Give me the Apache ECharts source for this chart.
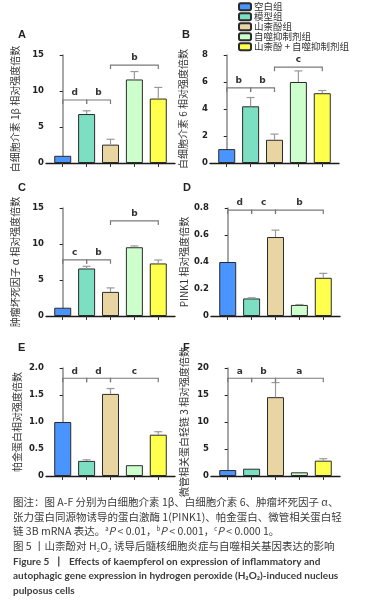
<!DOCTYPE html>
<html>
<head>
<meta charset="utf-8">
<script src="https://cdn.jsdelivr.net/npm/echarts@6/dist/echarts.min.js"></script>
<style>
  html, body { margin: 0; padding: 0; background: #fff; }
  #chart { width: 386px; height: 610px; }
</style>
</head>
<body>
<div id="chart"></div>
<script>
// 分组
const groups = ['空白组', '模型组', '山柰酚组', '自噬抑制剂组', '山柰酚 + 自噬抑制剂组'];
const groupColors = ['#4a94ff', '#7cdfc2', '#e8d5a2', '#ccffcc', '#ffff4d'];

// A 白细胞介素 1β
const il1b = [1.0, 6.8, 2.55, 11.6, 8.95];
const il1bErr = [1.0, 7.25, 3.3, 12.7, 10.5];
const il1bSig = [[0, 1, 8.75, 'd'], [1, 2, 8.75, 'b'], [2, 4, 13.6, 'b']];
// B 白细胞介素 6
const il6 = [1.03, 4.2, 1.72, 6.0, 5.17];
const il6Err = [1.03, 4.85, 2.14, 6.82, 5.37];
const il6Sig = [[0, 1, 5.56, 'b'], [1, 2, 5.56, 'b'], [2, 4, 7.1, 'c']];
// C 肿瘤坏死因子 α
const tnf = [1.15, 6.6, 3.35, 9.55, 7.3];
const tnfErr = [1.15, 6.9, 3.9, 9.73, 7.78];
const tnfSig = [[0, 1, 7.8, 'c'], [1, 2, 7.8, 'b'], [2, 4, 13.2, 'b']];
// D PINK1
const pink1 = [0.40, 0.13, 0.585, 0.082, 0.283];
const pink1Err = [0.40, 0.135, 0.636, 0.085, 0.316];
const pink1Sig = [[0, 1, 0.785, 'd'], [1, 2, 0.785, 'c'], [2, 4, 0.785, 'b']];
// E 帕金蛋白
const parkin = [1.0, 0.28, 1.52, 0.2, 0.765];
const parkinErr = [1.0, 0.30, 1.62, 0.2, 0.82];
const parkinSig = [[0, 1, 1.81, 'd'], [1, 2, 1.81, 'd'], [2, 4, 1.81, 'c']];
// F 微管相关蛋白轻链 3
const lc3 = [1.1, 1.35, 14.6, 0.68, 2.84];
const lc3Err = [1.1, 1.35, 17.3, 0.68, 3.2];
const lc3Sig = [[0, 1, 18.1, 'a'], [1, 2, 18.1, 'b'], [2, 4, 18.1, 'a']];

const panels = [
  { tag: 'A', vals: il1b, errs: il1bErr, sig: il1bSig, max: 15, step: 5, name: '白细胞介素 1β 相对强度倍数', left: 46, top: 55, gap: 26, dec: false },
  { tag: 'B', vals: il6, errs: il6Err, sig: il6Sig, max: 8, step: 2, name: '白细胞介素 6 相对强度倍数', left: 210, top: 55, gap: 22, dec: false },
  { tag: 'C', vals: tnf, errs: tnfErr, sig: tnfSig, max: 15, step: 5, name: '肿瘤坏死因子 α 相对强度倍数', left: 46, top: 208, gap: 26, dec: false },
  { tag: 'D', vals: pink1, errs: pink1Err, sig: pink1Sig, max: 0.8, step: 0.2, name: 'PINK1 相对强度倍数', left: 211, top: 208, gap: 22, dec: true },
  { tag: 'E', vals: parkin, errs: parkinErr, sig: parkinSig, max: 2.0, step: 0.5, name: '帕金蛋白相对强度倍数', left: 46, top: 368, gap: 24, dec: true },
  { tag: 'F', vals: lc3, errs: lc3Err, sig: lc3Sig, max: 20, step: 5, name: '微管相关蛋白轻链 3 相对强度倍数', left: 211, top: 368, gap: 22, dec: false }
];

const grid = [], xAxis = [], yAxis = [], series = [], graphic = [];

panels.forEach((p, k) => {
  grid.push({ left: p.left, top: p.top, width: 129, height: 108 });
  xAxis.push({
    type: 'value', gridIndex: k, min: -0.7, max: 4.7,
    axisLine: { show: true, onZero: false, lineStyle: { color: '#1a1a1a', width: 1.3 } },
    axisTick: { show: true, customValues: [0, 1, 2, 3, 4], length: 4, lineStyle: { color: '#333' } },
    axisLabel: { show: false },
    splitLine: { show: false }
  });
  yAxis.push({
    type: 'value', gridIndex: k, min: 0, max: p.max, interval: p.step,
    name: p.name, nameLocation: 'middle', nameGap: p.gap,
    nameTextStyle: { fontSize: 10, color: '#333', fontFamily: 'Noto Sans CJK SC' },
    axisLine: { show: true, lineStyle: { color: '#8a8a8a', width: 1.5 } },
    axisTick: { show: true, length: 3, lineStyle: { color: '#222' } },
    axisLabel: {
      fontSize: 8.5, color: '#222', margin: 2, fontWeight: 'bold', fontFamily: 'DejaVu Sans',
      formatter: v => (v === 0 ? '0' : (p.dec ? v.toFixed(1) : String(v)))
    },
    splitLine: { show: false }
  });

  // 柱子
  groups.forEach((g, i) => {
    series.push({
      name: g, type: 'bar', xAxisIndex: k, yAxisIndex: k, stack: 's' + k,
      barWidth: 17, data: [[i, p.vals[i]]],
      itemStyle: { color: groupColors[i], borderColor: '#2b2b2b', borderWidth: 1 }
    });
  });

  // 误差线
  series.push({
    type: 'custom', xAxisIndex: k, yAxisIndex: k, z: 5,
    data: p.vals.map((v, i) => [i, v, p.errs[i]]),
    renderItem(params, api) {
      const x = api.value(0), v = api.value(1), e = api.value(2);
      if (e <= v) return;
      const b = api.coord([x, v]), t = api.coord([x, e]);
      const st = { stroke: '#9a9a9a', lineWidth: 1.2 };
      return {
        type: 'group', children: [
          { type: 'line', shape: { x1: b[0], y1: b[1], x2: t[0], y2: t[1] }, style: st },
          { type: 'line', shape: { x1: t[0] - 4, y1: t[1], x2: t[0] + 4, y2: t[1] }, style: st }
        ]
      };
    }
  });

  // 显著性标记
  series.push({
    type: 'custom', xAxisIndex: k, yAxisIndex: k, z: 6,
    data: p.sig.map(s => [s[0], s[1], s[2]]),
    renderItem(params, api) {
      const a = api.coord([api.value(0), api.value(2)]);
      const b = api.coord([api.value(1), api.value(2)]);
      const lbl = p.sig[params.dataIndex][3];
      return {
        type: 'group', children: [
          {
            type: 'polyline',
            shape: { points: [[a[0], a[1] + 4], [a[0], a[1]], [b[0], b[1]], [b[0], b[1] + 4]] },
            style: { stroke: '#7a7a7a', lineWidth: 1.2, fill: null }
          },
          {
            type: 'text',
            style: {
              text: lbl, x: (a[0] + b[0]) / 2, y: a[1] - 7, align: 'center', verticalAlign: 'middle',
              fontSize: 9, fontWeight: 'bold', fontFamily: 'DejaVu Sans', fill: '#333'
            }
          }
        ]
      };
    }
  });

  graphic.push({
    type: 'text', left: p.left - 28, top: p.top - 26,
    style: { text: p.tag, fontSize: 11, fontWeight: 'bold', fontFamily: 'Liberation Sans', fill: '#222' }
  });
});

const cap = { fontSize: 10.5, fontFamily: 'Noto Sans CJK SC', fill: '#3a3a3a' };
const capEn = { fontSize: 10, fontWeight: 'bold', fontFamily: 'Lato', fill: '#3a3a3a' };
const capLines = [
  [497, '图注：图 A-F 分别为白细胞介素 1β、白细胞介素 6、肿瘤坏死因子 α、', cap],
  [512, '张力蛋白同源物诱导的蛋白激酶 1(PINK1)、帕金蛋白、微管相关蛋白轻', cap],
  [541, '图 5 丨山柰酚对 H₂O₂ 诱导后髓核细胞炎症与自噬相关基因表达的影响', cap],
  [557, 'Figure 5  丨  Effects of kaempferol on expression of inflammatory and', capEn],
  [571, 'autophagic gene expression in hydrogen peroxide (H₂O₂)-induced nucleus', capEn],
  [586, 'pulposus cells', capEn]
];
capLines.forEach(([y, t, s]) => {
  graphic.push({ type: 'text', left: 13, top: y, style: Object.assign({ text: t }, s) });
});
graphic.push({
  type: 'text', left: 13, top: 526,
  style: {
    text: '{n|链 3B mRNA 表达。}{s|a}{i|P}{n| < 0.01，}{s|b}{i|P}{n| < 0.001，}{s|c}{i|P}{n| < 0.000 1。}',
    rich: {
      n: { fontSize: 10.5, fontFamily: 'Noto Sans CJK SC', fill: '#3a3a3a', verticalAlign: 'bottom' },
      i: { fontSize: 10.5, fontFamily: 'Noto Sans CJK SC', fontStyle: 'italic', fill: '#3a3a3a', verticalAlign: 'bottom' },
      s: { fontSize: 6, fontFamily: 'Noto Sans CJK SC', fill: '#3a3a3a', verticalAlign: 'top' }
    }
  }
});

const myChart = echarts.init(document.getElementById('chart'));
myChart.setOption({
  animation: false,
  legend: {
    data: groups, orient: 'vertical', left: 238, top: 2, padding: 0,
    itemWidth: 12, itemHeight: 7, itemGap: 0.5,
    textStyle: { fontSize: 9.5, lineHeight: 9, color: '#333', fontFamily: 'Noto Sans CJK SC', padding: [0, 0, 0, -2] },
    selectedMode: false
  },
  grid, xAxis, yAxis, series, graphic
});
</script>
</body>
</html>
